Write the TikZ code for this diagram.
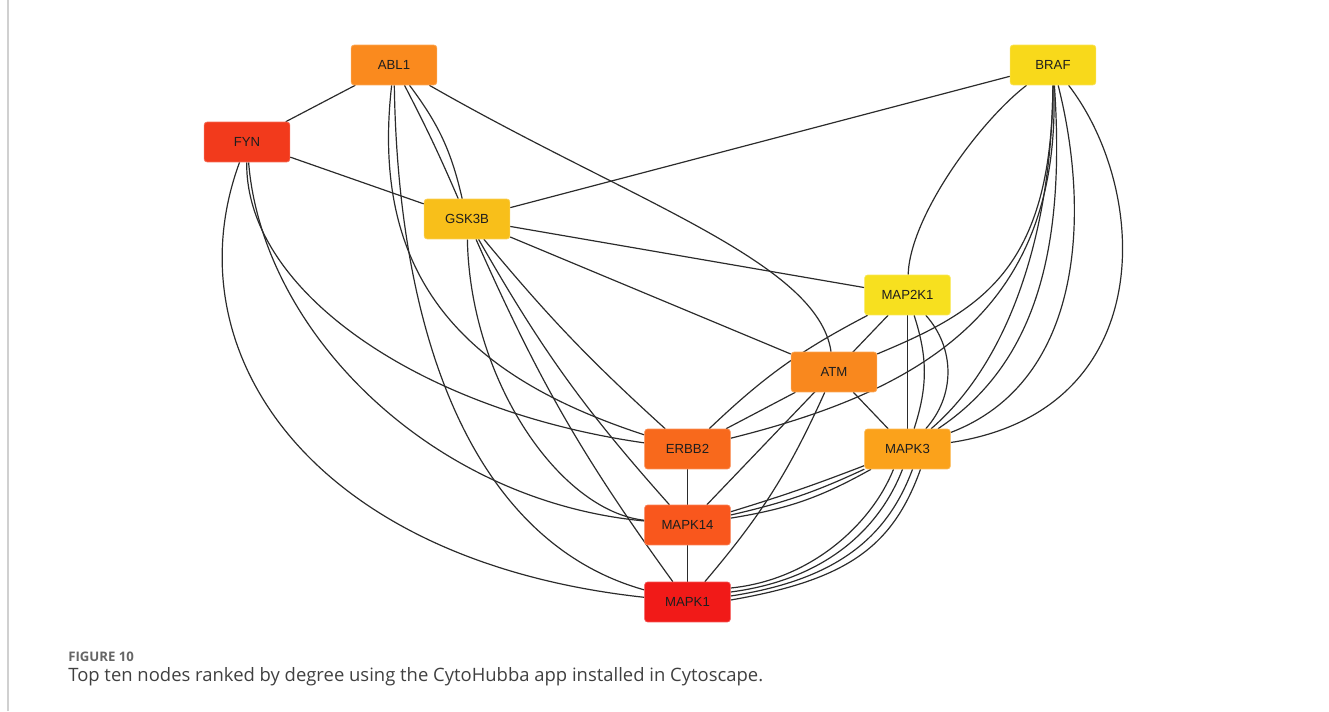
\documentclass[tikz,border=0pt]{standalone}
\usepackage{fontspec}
\setmainfont{Liberation Sans}
\newfontfamily\capfont{Open Sans}
\usetikzlibrary{calc}
\definecolor{cABL}{HTML}{FA8A1E}
\definecolor{cFYN}{HTML}{F23A1C}
\definecolor{cGSK}{HTML}{F8BF1A}
\definecolor{cBRAF}{HTML}{F8D91B}
\definecolor{cMAP2K1}{HTML}{F7E01F}
\definecolor{cATM}{HTML}{F9881E}
\definecolor{cERBB}{HTML}{F8691C}
\definecolor{cMAPK3}{HTML}{FBA21B}
\definecolor{cMAPK14}{HTML}{F9571D}
\definecolor{cMAPK1}{HTML}{F11A18}
\definecolor{edgecol}{HTML}{2B2B2B}
\definecolor{nodetext}{HTML}{1E1E1E}
\definecolor{figgray}{HTML}{666666}
\definecolor{capgray}{HTML}{404040}
\definecolor{framegray}{HTML}{D0D0D0}
\pgfdeclarelayer{edgelayer}
\pgfsetlayers{edgelayer,main}
\begin{document}
\begin{tikzpicture}[x=0.02cm,y=0.02cm,
  nd/.style={rectangle, rounded corners=1.7pt, minimum width=48.8pt, minimum height=22.7pt,
    inner sep=0pt, font=\fontsize{7.5}{9}\selectfont, text=nodetext, fill=#1, draw=#1!75!white, line width=0.4pt},
  edge/.style={draw=edgecol, line width=0.68pt}]
\useasboundingbox (0,0) rectangle (1329,711);
\draw[framegray, line width=0.6pt] (8,0) -- (8,711);

% nodes
\node[nd=cABL]    (ABL1)   at (394,646) {ABL1};
\node[nd=cFYN]    (FYN)    at (247,569) {FYN};
\node[nd=cGSK]    (GSK3B)  at (467,492) {GSK3B};
\node[nd=cBRAF]   (BRAF)   at (1053,646) {BRAF};
\node[nd=cMAP2K1] (MAP2K1) at (907.5,416) {MAP2K1};
\node[nd=cATM]    (ATM)    at (834,339) {ATM};
\node[nd=cERBB]   (ERBB2)  at (687.5,262) {ERBB2};
\node[nd=cMAPK3]  (MAPK3)  at (907.5,262) {MAPK3};
\node[nd=cMAPK14] (MAPK14) at (687.5,186) {MAPK14};
\node[nd=cMAPK1]  (MAPK1)  at (687.5,109) {MAPK1};

\begin{pgfonlayer}{edgelayer}
% FYN
\draw[edge] (FYN) -- (ABL1);
\draw[edge] (FYN) -- (GSK3B);
\draw[edge] (FYN) .. controls (170,360) and (310,150) .. (MAPK1);
\draw[edge] (FYN) .. controls (245,420) and (420,300) .. (ERBB2);
\draw[edge] (FYN) .. controls (262,380) and (430,210) .. (MAPK14);
% ABL1
\draw[edge] (ABL1) to[bend left=12] (GSK3B);
\draw[edge] (ABL1) to[bend left=2] (GSK3B);
\draw[edge] (ABL1) .. controls (633,509) and (818,449) .. (ATM);
\draw[edge] (ABL1) .. controls (368,420) and (480,330) .. (ERBB2);
\draw[edge] (ABL1) .. controls (398,380) and (470,170) .. (MAPK1);
% GSK3B
\draw[edge] (GSK3B) -- (BRAF);
\draw[edge] (GSK3B) -- (MAP2K1);
\draw[edge] (GSK3B) -- (ATM);
\draw[edge] (GSK3B) to[bend right=4] (ERBB2);
\draw[edge] (GSK3B) to[bend right=6] (MAPK14);
\draw[edge] (GSK3B) to[bend right=6] (MAPK1);
\draw[edge] (GSK3B) .. controls (470,330) and (560,200) .. (MAPK14);
% BRAF
\draw[edge] (MAP2K1) .. controls (910,495) and (980,590) .. (BRAF);
\draw[edge] (ATM) .. controls (980,400) and (1052,440) .. (BRAF);
\draw[edge] (ERBB2) .. controls (920,320) and (1062,400) .. (BRAF);
\draw[edge] (BRAF) .. controls (1052,480) and (1010,350) .. (MAPK3);
\draw[edge] (BRAF) .. controls (1065,470) and (1040,350) .. (MAPK3);
\draw[edge] (BRAF) .. controls (1090,500) and (1085,330) .. (MAPK3);
\draw[edge] (BRAF) .. controls (1150,520) and (1160,300) .. (MAPK3);
% MAP2K1
\draw[edge] (MAP2K1) -- (MAPK3);
\draw[edge] (MAP2K1) to[bend left=18] (MAPK3);
\draw[edge] (MAP2K1) to[bend left=42] (MAPK3);
\draw[edge] (MAP2K1) to[bend right=8] (ERBB2);
\draw[edge] (MAP2K1) -- (MAPK14);
% ATM
\draw[edge] (ATM) -- (ERBB2);
\draw[edge] (ATM) to[bend left=8] (MAPK1);
\draw[edge] (ATM) -- (MAPK3);
% lower part
\draw[edge] (ERBB2) -- (MAPK14);
\draw[edge] (MAPK14) -- (MAPK1);
\draw[edge] (MAPK3) to[bend left=2] (MAPK14);
\draw[edge] (MAPK3) to[bend left=6] (MAPK14);
\draw[edge] (MAPK3) to[bend left=10] (MAPK14);
\draw[edge] ($(MAPK3.south)+(-14,0)$) .. controls +(-22,-55) and +(80,8) .. ($(MAPK1.east)+(0,14)$);
\draw[edge] ($(MAPK3.south)+(-5,0)$) .. controls +(-24,-62) and +(92,12) .. ($(MAPK1.east)+(0,10)$);
\draw[edge] ($(MAPK3.south)+(5,0)$) .. controls +(-26,-70) and +(104,16) .. ($(MAPK1.east)+(0,6)$);
\draw[edge] ($(MAPK3.south)+(13,0)$) .. controls +(-28,-78) and +(116,20) .. ($(MAPK1.east)+(0,2)$);
\end{pgfonlayer}

% caption
\node[anchor=base west, inner sep=0pt, font=\capfont\bfseries\fontsize{7.5}{9}\selectfont, text=figgray] (figlbl) at (68,50) {FIGURE 10};
\node[anchor=base west, inner sep=0pt, font=\capfont\fontsize{10.5}{12}\selectfont, text=capgray] (caption) at (68,30) {Top ten nodes ranked by degree using the CytoHubba app installed in Cytoscape.};
\end{tikzpicture}
\end{document}
